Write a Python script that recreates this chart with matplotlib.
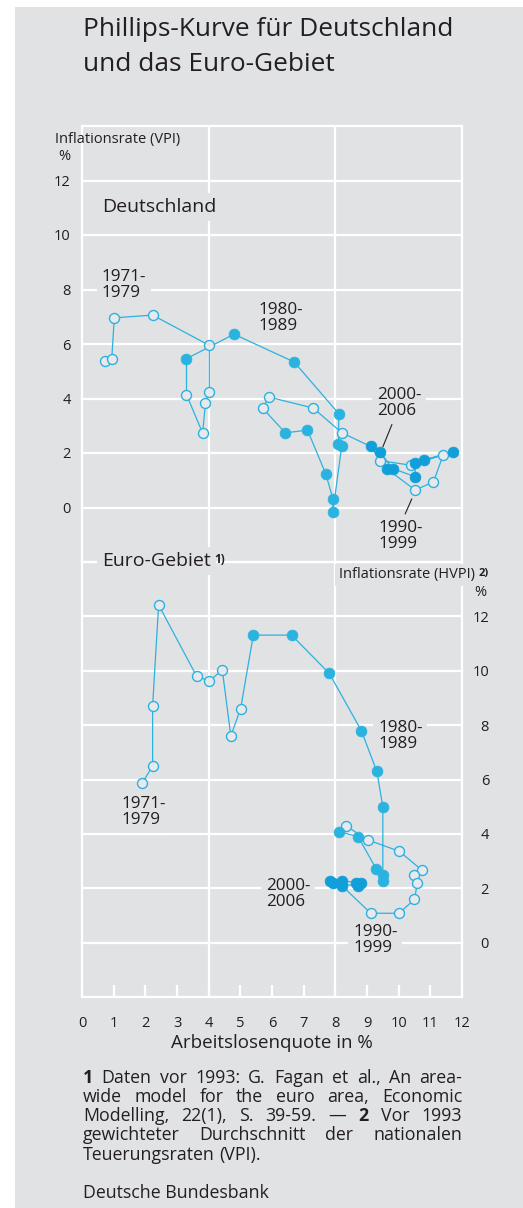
import matplotlib
matplotlib.use('Agg')
import matplotlib.pyplot as plt
from matplotlib.patches import Rectangle

plt.rcParams['font.family'] = ['Open Sans', 'DejaVu Sans']

# ---------------- data ----------------
# Deutschland: Arbeitslosenquote (x) / Inflationsrate VPI (y)
de_7079_x = [0.73, 0.94, 1.02, 2.23, 4.02, 4.02, 3.90, 3.81, 3.30]
de_7079_y = [5.36, 5.46, 6.96, 7.06, 5.95, 4.25, 3.84, 2.73, 4.14]
de_8090_x = [3.30, 4.80, 6.70, 8.11, 8.10, 8.20, 7.92, 7.92, 7.70, 7.12, 6.42]
de_8090_y = [5.46, 6.36, 5.34, 3.44, 2.33, 2.24, -0.17, 0.33, 1.23, 2.84, 2.74]
de_9199_x = [5.70, 5.91, 7.30, 8.21, 9.41, 10.40, 11.41, 11.10, 10.52]
de_9199_y = [3.65, 4.05, 3.65, 2.74, 1.72, 1.55, 1.94, 0.94, 0.64]
de_extra_x = [9.12]
de_extra_y = [2.24]
de_0006_x = [9.62, 9.41, 9.81, 10.52, 10.52, 11.72, 10.81]
de_0006_y = [1.43, 2.04, 1.43, 1.13, 1.65, 2.04, 1.74]

# Euro-Gebiet: Arbeitslosenquote (x) / Inflationsrate HVPI (y)
eu_7079_x = [1.91, 2.23, 2.23, 2.42, 3.62, 4.02, 4.43, 4.70, 5.01]
eu_7079_y = [5.88, 6.50, 8.71, 12.42, 9.80, 9.62, 10.03, 7.60, 8.61]
eu_8090_x = [5.41, 6.62, 7.81, 8.82, 9.31, 9.50, 9.50, 9.51, 9.30, 8.72, 8.12]
eu_8090_y = [11.31, 11.31, 9.90, 7.80, 6.30, 5.00, 2.28, 2.50, 2.69, 3.90, 4.08]
eu_9199_x = [8.33, 9.02, 10.02, 10.73, 10.48, 10.59, 10.50, 10.01, 9.12]
eu_9199_y = [4.30, 3.78, 3.36, 2.67, 2.50, 2.20, 1.59, 1.08, 1.08]
eu_0006_x = [8.21, 7.83, 8.20, 8.65, 8.80, 8.72, 7.92]
eu_0006_y = [2.09, 2.28, 2.28, 2.21, 2.19, 2.09, 2.18]

x_ticks = list(range(0, 13))
x_grid = [0, 4, 8, 12]
y_ticks = list(range(0, 13, 2))

title_lines = ["Phillips-Kurve für Deutschland", "und das Euro-Gebiet"]
footnote_lines = [
    "*1* Daten vor 1993: G. Fagan et al., An area-",
    "wide model for the euro area, Economic",
    "Modelling, 22(1), S. 39-59. — *2* Vor 1993",
    "gewichteter Durchschnitt der nationalen",
    "Teuerungsraten (VPI).",
]
source = "Deutsche Bundesbank"

# ---------------- style ----------------
W, H = 523, 1208
BG = '#e1e2e4'
LINE = '#2cb1e0'
FILL80 = '#2bb3e0'
FILL00 = '#109fd8'
OPENFILL = '#e8e9eb'
TXT = '#231f20'
GRID = 'white'
GLW = 1.6

fig = plt.figure(figsize=(W / 100, H / 100), dpi=100, facecolor='white')
fig.patches.append(Rectangle((15 / W, 0), 1 - 15 / W, 1 - 7 / H,
                             transform=fig.transFigure, facecolor=BG,
                             edgecolor='none', zorder=-10))


def fx(px):
    return px / W


def fy(py):
    return 1 - py / H


X0, X1 = 82, 462
YTOP, YMID, YBOT = 126, 562, 997
ax_de = fig.add_axes([fx(X0), fy(YMID), (X1 - X0) / W, (YMID - YTOP) / H], zorder=1)
ax_eu = fig.add_axes([fx(X0), fy(YBOT), (X1 - X0) / W, (YBOT - YMID) / H], zorder=2)

for ax in (ax_de, ax_eu):
    ax.set_facecolor('none')
    ax.set_xlim(0, 12)
    ax.set_ylim(-2, 14)
    for s in ax.spines.values():
        s.set_visible(False)
    ax.set_axisbelow(True)
    ax.set_yticks(list(range(-2, 15, 2)))
    ax.set_yticklabels([''] + [str(v) for v in y_ticks] + [''])
    ax.grid(True, which='major', axis='y', color=GRID, lw=GLW, clip_on=False)
    ax.vlines(x_grid, -2, 14, colors=GRID, lw=GLW, zorder=0.6, clip_on=False)

ax_de.set_xticks([])
ax_de.tick_params(axis='y', length=0, labelsize=10.5, labelcolor=TXT, pad=8)

ax_eu.set_xticks(x_ticks, labels=[str(v) for v in x_ticks])
ax_eu.tick_params(axis='x', direction='in', length=8.5, width=GLW,
                  color=GRID, labelsize=10.5, labelcolor=TXT, pad=14)
ax_eu.yaxis.tick_right()
ax_eu.tick_params(axis='y', length=0, labelsize=10.5, labelcolor=TXT, pad=19.5)
for t in ax_eu.get_yticklabels():
    t.set_horizontalalignment('right')
ax_eu.set_xlabel("Arbeitslosenquote in %", fontsize=13.5, color=TXT, labelpad=2)


def draw_series(ax, groups):
    xs, ys = [], []
    for gx, gy, _ in groups:
        xs += gx
        ys += gy
    ax.plot(xs, ys, color=LINE, lw=0.9, zorder=4, solid_joinstyle='round')
    for gx, gy, kind in groups:
        if kind == 'open':
            ax.plot(gx, gy, 'o', ms=7.2, mfc=OPENFILL, mec=LINE, mew=1.0,
                    zorder=5, ls='none')
        elif kind == 'f80':
            ax.plot(gx, gy, 'o', ms=7.8, mfc=FILL80, mec=FILL80, mew=0.5,
                    zorder=6, ls='none')
        else:
            ax.plot(gx, gy, 'o', ms=7.8, mfc=FILL00, mec=FILL00, mew=0.5,
                    zorder=6, ls='none')


# Germany path: 1994 -> extra point -> 1995
draw_series(ax_de, [
    (de_7079_x, de_7079_y, 'open'),
    (de_8090_x, de_8090_y, 'f80'),
    (de_9199_x[:4], de_9199_y[:4], 'open'),
    (de_extra_x, de_extra_y, 'f00'),
    (de_9199_x[4:], de_9199_y[4:], 'open'),
    (de_0006_x, de_0006_y, 'f00'),
])
draw_series(ax_eu, [
    (eu_7079_x, eu_7079_y, 'open'),
    (eu_8090_x, eu_8090_y, 'f80'),
    (eu_9199_x, eu_9199_y, 'open'),
    (eu_0006_x, eu_0006_y, 'f00'),
])

box = dict(facecolor=BG, edgecolor='none', pad=3.5)


def label(ax, x, y, s, fs=12.3, **kw):
    return ax.text(x, y, s, fontsize=fs, color=TXT, va='center', ha='left',
                   linespacing=1.0, bbox=box, zorder=3, clip_on=False, **kw)


# Germany labels
label(ax_de, 0.63, 11.03, "Deutschland", fs=14)
label(ax_de, 0.63, 8.15, "1971-\n1979")
label(ax_de, 5.56, 6.94, "1980-\n1989")
label(ax_de, 9.31, 3.84, "2000-\n2006")
label(ax_de, 9.35, -1.03, "1990-\n1999")
ax_de.annotate('', xy=(9.47, 2.14), xytext=(9.82, 3.14),
               arrowprops=dict(arrowstyle='-', color=TXT, lw=0.8), zorder=7)
ax_de.annotate('', xy=(10.45, 0.41), xytext=(10.17, -0.33),
               arrowprops=dict(arrowstyle='-', color=TXT, lw=0.8), zorder=7)

# Euro labels
eg = label(ax_eu, 0.63, 14.03, "Euro-Gebiet", fs=14)
ax_eu.annotate("1)", xy=(1, 0.95), xycoords=eg, xytext=(2.5, 0),
               textcoords='offset points', fontsize=8.5, fontweight='bold',
               color=TXT, va='top', ha='left', zorder=8)
label(ax_eu, 1.26, 4.79, "1971-\n1979")
label(ax_eu, 9.35, 7.61, "1980-\n1989")
label(ax_eu, 5.81, 1.80, "2000-\n2006")
label(ax_eu, 8.56, 0.08, "1990-\n1999")

hv = ax_eu.text(12.41, 13.53, "Inflationsrate (HVPI)", fontsize=10.5, color=TXT,
                ha='right', va='center', bbox=dict(facecolor=BG, edgecolor='none', pad=2.5),
                zorder=3, clip_on=False)
ax_eu.annotate("2)", xy=(1, 0.92), xycoords=hv, xytext=(2.5, 0),
               textcoords='offset points', fontsize=8, fontweight='bold',
               color=TXT, va='top', ha='left', zorder=8)
ax_eu.text(12.57, 12.87, "%", fontsize=10.5, color=TXT, ha='center', va='center',
           clip_on=False)

# Germany axis title
fig.text(fx(55), fy(140), "Inflationsrate (VPI)", fontsize=10.5, color=TXT,
         ha='left', va='center')
fig.text(fx(64.5), fy(157), "%", fontsize=10.5, color=TXT, ha='center', va='center')

# title
fig.text(fx(83), fy(36), title_lines[0], fontsize=18.9, color=TXT, ha='left', va='baseline')
fig.text(fx(83), fy(71), title_lines[1], fontsize=18.9, color=TXT, ha='left', va='baseline')

# footnotes (justified)
FN_FS = 12.8
FN_L, FN_R = 83, 462
fn_y = [1078, 1097, 1116, 1135, 1155]
renderer = fig.canvas.get_renderer()
probe_a = fig.text(0, 0, 'a', fontsize=FN_FS)
probe_aa = fig.text(0, 0, 'a a', fontsize=FN_FS)
space_w = (probe_aa.get_window_extent(renderer).width
           - 2 * probe_a.get_window_extent(renderer).width)
probe_a.remove()
probe_aa.remove()
for i, (line, ypx) in enumerate(zip(footnote_lines, fn_y)):
    words = line.split(' ')
    arts = []
    for w in words:
        bold = w.startswith('*') and w.endswith('*')
        txt = w.strip('*') if bold else w
        a = fig.text(0, fy(ypx), txt, fontsize=FN_FS, color=TXT, ha='left', va='center',
                     fontweight='bold' if bold else 'normal')
        arts.append(a)
    widths = [a.get_window_extent(renderer).width for a in arts]
    if i < len(footnote_lines) - 1:
        gap = (FN_R - FN_L - sum(widths)) / (len(arts) - 1)
    else:
        gap = space_w
    xcur = FN_L
    for a, w in zip(arts, widths):
        a.set_x(fx(xcur))
        xcur += w + gap

fig.text(fx(83), fy(1193), source, fontsize=FN_FS, color=TXT, ha='left', va='center')

fig.savefig('out.png', dpi=100, facecolor='white')
